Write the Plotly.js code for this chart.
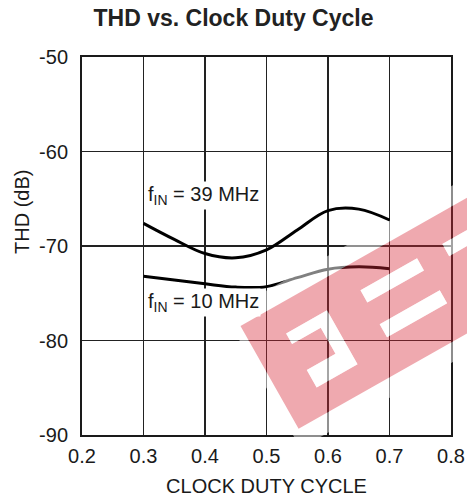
<!DOCTYPE html>
<html>
<head>
<meta charset="utf-8">
<script src="https://cdn.plot.ly/plotly-3.0.1.min.js"></script>
<style>
  html, body { margin: 0; padding: 0; background: #fff; }
  #chart { width: 467px; height: 504px; }
</style>
</head>
<body>
<div id="chart"></div>
<script>
// Clock duty cycle (x) and total harmonic distortion in dB for two input frequencies
const dutyCycle = [0.30, 0.35, 0.40, 0.45, 0.50, 0.55, 0.60, 0.65, 0.70];
const thd39MHz  = [-67.6, -69.3, -70.8, -71.25, -70.4, -68.3, -66.25, -66.1, -67.25];
const thd10MHz  = [-73.2, -73.6, -74.0, -74.35, -74.3, -73.35, -72.45, -72.2, -72.4];

const xTicks = [0.2, 0.3, 0.4, 0.5, 0.6, 0.7, 0.8];
const xTickText = ['0.2', '0.3', '0.4', '0.5', '0.6', '0.7', '0.8'];
const yTicks = [-90, -80, -70, -60, -50];
const yTickText = ['-90', '-80', '-70', '-60', '-50'];

const FONT = 'Liberation Sans, Arial, Helvetica, sans-serif';
const INK = '#1a1a1a';

// Plot-area geometry in pixels (used for the logo overlay)
const W = 467, H = 504;
const M = { l: 82, r: 16, t: 57, b: 69 };
const PX_L = M.l, PX_R = W - M.r, PX_T = M.t, PX_B = H - M.b;

// Tilted logo band: local coordinates (u along the band, v across it)
const ANG = 29.5 * Math.PI / 180;
const ORIGIN = [240.5, 326];
function toPaper(u, v) {
  const px = ORIGIN[0] + u * Math.cos(ANG) + v * Math.sin(ANG);
  const py = ORIGIN[1] - u * Math.sin(ANG) + v * Math.cos(ANG);
  return [(px - PX_L) / (PX_R - PX_L), (PX_B - py) / (PX_B - PX_T)];
}
function poly(pts) {
  return 'M' + pts.map(p => toPaper(p[0], p[1]).map(n => n.toFixed(4)).join(',')).join('L') + 'Z';
}
function rect(u0, u1, v0, v1) {
  return poly([[u0, v0], [u1, v0], [u1, v1], [u0, v1]]);
}

const bandPath = rect(0, 330, 0, 118);
const holes = [
  poly([[36, 29], [83, 29], [83, 91], [36, 91], [36, 71], [69, 71], [69, 41], [36, 41]]),
  rect(122, 187, 28, 42),
  rect(122, 191, 67, 82),
  rect(216, 300, 28, 42)
];

const shapes = [
  { type: 'path', xref: 'paper', yref: 'paper', layer: 'above', fillrule: 'evenodd',
    path: rect(-8, 350, -18, 136) + bandPath,
    fillcolor: 'rgba(255,255,255,0.5)', line: { width: 0 } },
  { type: 'path', xref: 'paper', yref: 'paper', layer: 'above', fillrule: 'evenodd',
    path: bandPath + holes.join(''),
    fillcolor: 'rgba(214,40,56,0.40)', line: { width: 0 } }
].concat(holes.map(h => ({
  type: 'path', xref: 'paper', yref: 'paper', layer: 'above',
  path: h, fillcolor: 'rgba(255,255,255,0.6)', line: { width: 0 }
})));

const traces = [
  { x: dutyCycle, y: thd39MHz, mode: 'lines', name: '39 MHz',
    line: { color: '#000', width: 3, shape: 'spline' }, hoverinfo: 'skip' },
  { x: dutyCycle, y: thd10MHz, mode: 'lines', name: '10 MHz',
    line: { color: '#000', width: 3, shape: 'spline' }, hoverinfo: 'skip' }
];

const axisCommon = {
  showline: true, mirror: true, linecolor: INK, linewidth: 2,
  showgrid: true, gridcolor: '#222', gridwidth: 1.3,
  zeroline: false, ticks: '', fixedrange: true,
  tickfont: { family: FONT, size: 20, color: INK }
};

const layout = {
  width: W, height: H,
  margin: M,
  paper_bgcolor: '#fff', plot_bgcolor: '#fff',
  showlegend: false,
  title: {
    text: '<b>THD vs. Clock Duty Cycle</b>',
    xref: 'container', x: 0.5, xanchor: 'center',
    yref: 'container', y: 1 - 18 / H, yanchor: 'middle',
    font: { family: FONT, size: 23, color: '#222' }
  },
  xaxis: Object.assign({}, axisCommon, {
    range: [0.2, 0.8], tickvals: xTicks, ticktext: xTickText,
    ticklabelstandoff: 2,
    title: { text: 'CLOCK DUTY CYCLE', standoff: 13,
             font: { family: FONT, size: 20, color: INK } }
  }),
  yaxis: Object.assign({}, axisCommon, {
    range: [-90, -50], tickvals: yTicks, ticktext: yTickText,
    ticklabelstandoff: 8
  }),
  shapes: shapes,
  annotations: [
    { text: 'THD (dB)', textangle: -90, xref: 'paper', yref: 'paper',
      x: (22 - PX_L) / (PX_R - PX_L), y: (PX_B - 212) / (PX_B - PX_T),
      xanchor: 'center', yanchor: 'middle', showarrow: false,
      font: { family: FONT, size: 20, color: INK } },
    { text: 'f<sub>IN</sub> = 39 MHz', xref: 'x', yref: 'y', x: 0.304, y: -64.7,
      xanchor: 'left', yanchor: 'middle', showarrow: false,
      bgcolor: '#fff', borderpad: 1,
      font: { family: FONT, size: 20, color: INK } },
    { text: 'f<sub>IN</sub> = 10 MHz', xref: 'x', yref: 'y', x: 0.304, y: -76.0,
      xanchor: 'left', yanchor: 'middle', showarrow: false,
      bgcolor: '#fff', borderpad: 1,
      font: { family: FONT, size: 20, color: INK } }
  ]
};

Plotly.newPlot('chart', traces, layout, { staticPlot: true, displayModeBar: false });
</script>
</body>
</html>
